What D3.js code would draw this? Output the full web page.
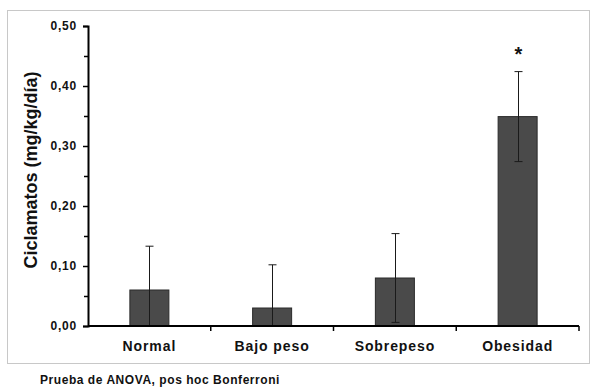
<!DOCTYPE html>
<html>
<head>
<meta charset="utf-8">
<script src="https://cdn.jsdelivr.net/npm/d3@7.9.0/dist/d3.min.js"></script>
<style>
  body { margin: 0; background: #fff; }
  text { font-family: "Liberation Sans", Arial, sans-serif; font-weight: bold; fill: #111; }
</style>
</head>
<body>
<svg id="chart" width="590" height="388"></svg>
<script>
const categories = ['Normal', 'Bajo peso', 'Sobrepeso', 'Obesidad'];
const means = [0.06, 0.03, 0.08, 0.349];
const sds = [0.073, 0.072, 0.074, 0.075];
const significant = [false, false, false, true];
const yTicks = [0, 0.1, 0.2, 0.3, 0.4, 0.5];
const yMinorTicks = [0.05, 0.15, 0.25, 0.35, 0.45];

const svg = d3.select('#chart');

// outer frame
svg.append('rect')
  .attr('x', 7.5).attr('y', 10.5)
  .attr('width', 582).attr('height', 353)
  .attr('fill', 'none')
  .attr('stroke', '#c8c8c8');

const x = d3.scaleBand().domain(categories).range([88, 579]);
const y = d3.scaleLinear().domain([0, 0.5]).range([326, 26]);
const barW = 39;

// bars
svg.selectAll('.bar')
  .data(categories)
  .join('rect')
  .attr('class', 'bar')
  .attr('x', d => x(d) + x.bandwidth() / 2 - barW / 2)
  .attr('width', barW)
  .attr('y', (d, i) => y(means[i]))
  .attr('height', (d, i) => y(0) - y(means[i]))
  .attr('fill', '#4a4a4a')
  .attr('stroke', '#2a2a2a')
  .attr('stroke-width', 1);

// error bars
const err = svg.append('g').attr('stroke', '#1a1a1a').attr('stroke-width', 1);
categories.forEach((c, i) => {
  const cx = Math.round(x(c) + x.bandwidth() / 2) + 0.5;
  const hi = means[i] + sds[i];
  const lo = Math.max(0, means[i] - sds[i]);
  err.append('line').attr('x1', cx).attr('x2', cx).attr('y1', y(hi)).attr('y2', y(lo));
  err.append('line').attr('x1', cx - 4).attr('x2', cx + 4).attr('y1', y(hi)).attr('y2', y(hi));
  if (means[i] - sds[i] > 0) {
    err.append('line').attr('x1', cx - 4).attr('x2', cx + 4).attr('y1', y(lo)).attr('y2', y(lo));
  }
  if (significant[i]) {
    svg.append('text')
      .attr('x', cx)
      .attr('y', y(hi) - 11)
      .attr('text-anchor', 'middle')
      .style('font-size', '20px')
      .text('*');
  }
});

// y axis
const fmt = d => d3.format('.2f')(d).replace('.', ',');
const yAxis = svg.append('g')
  .attr('transform', 'translate(88,0)')
  .call(d3.axisLeft(y).tickValues(yTicks).tickFormat(fmt).tickSize(5).tickPadding(6));
yAxis.select('.domain').attr('stroke-width', 2).attr('stroke', '#000');
yAxis.selectAll('.tick line').attr('stroke-width', 1.5);
yAxis.selectAll('.tick text')
  .style('font-size', '12px')
  .style('letter-spacing', '0.8px')
  .attr('fill', '#111')
  .attr('font-family', null).attr('font-size', null);

svg.append('g')
  .attr('transform', 'translate(88,0)')
  .call(d3.axisLeft(y).tickValues(yMinorTicks).tickFormat('').tickSize(4))
  .call(g => g.select('.domain').remove())
  .selectAll('.tick line').attr('stroke-width', 1.5);

// x axis
const boundaries = categories.map(c => x(c) + x.bandwidth());
const xLine = svg.append('g');
xLine.append('line')
  .attr('x1', 88).attr('x2', 579)
  .attr('y1', y(0)).attr('y2', y(0))
  .attr('stroke', '#000').attr('stroke-width', 2);
xLine.selectAll('.xt')
  .data(boundaries)
  .join('line')
  .attr('x1', d => d).attr('x2', d => d)
  .attr('y1', y(0)).attr('y2', y(0) + 5)
  .attr('stroke', '#000').attr('stroke-width', 1.5);

svg.selectAll('.xlab')
  .data(categories)
  .join('text')
  .attr('x', d => x(d) + x.bandwidth() / 2)
  .attr('y', 351)
  .attr('text-anchor', 'middle')
  .style('font-size', '14px')
  .style('letter-spacing', '0.9px')
  .text(d => d);

// y axis title
svg.append('text')
  .attr('transform', 'translate(37,170) rotate(-90)')
  .attr('text-anchor', 'middle')
  .style('font-size', '18px')
  .text('Ciclamatos (mg/kg/día)');

// footnote
svg.append('text')
  .attr('x', 40)
  .attr('y', 384)
  .style('font-size', '12px')
  .style('letter-spacing', '0.55px')
  .text('Prueba de ANOVA, pos hoc Bonferroni');
</script>
</body>
</html>
